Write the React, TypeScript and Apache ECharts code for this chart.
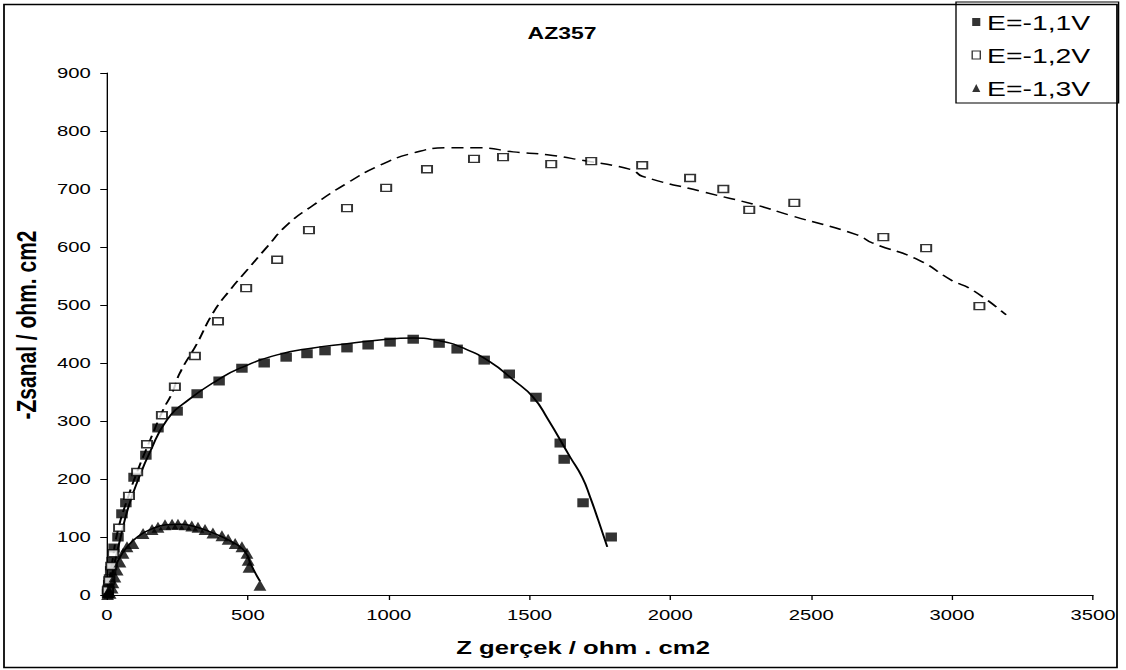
import React, { useEffect, useRef } from "react";
import * as echarts from "echarts";

// Horizontal stretch of the original figure (its texts and markers are wider than tall)
const S = 1.35;
const W = 1126 / S;
const H = 670;

const TITLE = "AZ357";
const X_NAME = "Z gerçek / ohm . cm2";
const Y_NAME = "-Zsanal / ohm. cm2";
const SERIES_NAMES = ["E=-1,1V", "E=-1,2V", "E=-1,3V"];

// E=-1,1V measured points (Zreal, -Zimag)
const s1Points: number[][] = [
  [2, 3], [4, 10], [6, 18], [9, 28], [13, 42], [18, 58], [25, 81], [39, 100], [53, 140],
  [67, 159], [96, 203], [138, 241], [181, 288], [249, 317], [320, 347], [398, 369],
  [479, 391], [558, 400], [636, 410], [710, 416], [774, 421], [852, 426], [927, 431],
  [1005, 436], [1087, 441], [1179, 434], [1243, 424], [1339, 405], [1428, 381],
  [1523, 341], [1609, 262], [1623, 234], [1690, 159], [1790, 100],
];
// E=-1,1V fitted curve
const s1Fit: number[][] = [
  [0, 0], [4, 3], [21, 43], [46, 95], [75, 150], [110, 198], [153, 247], [213, 302],
  [288, 336], [394, 371], [472, 391], [604, 414], [732, 426], [852, 433], [994, 441],
  [1087, 443], [1183, 438], [1264, 426], [1360, 402], [1442, 371], [1513, 341],
  [1563, 305], [1644, 238], [1687, 203], [1715, 169], [1744, 129], [1776, 83],
];

// E=-1,2V measured points
const s2Points: number[][] = [
  [3, 8], [8, 25], [15, 50], [22, 72], [43, 116], [78, 171], [107, 212], [142, 260],
  [195, 310], [241, 359], [312, 412], [394, 472], [494, 529], [604, 578], [717, 629],
  [852, 667], [991, 702], [1136, 734], [1303, 752], [1406, 755], [1577, 743],
  [1719, 748], [1900, 741], [2070, 719], [2188, 700], [2280, 664], [2440, 676],
  [2756, 617], [2908, 598], [3097, 498],
];
// E=-1,2V fitted curve (dashed)
const s2Fit: number[][] = [
  [0, 0], [18, 55], [39, 112], [75, 169], [110, 216], [153, 267], [199, 319], [231, 348],
  [259, 383], [320, 434], [376, 486], [437, 526], [497, 560], [568, 600], [639, 638],
  [732, 672], [852, 710], [969, 741], [1087, 762], [1207, 771], [1325, 771], [1442, 764],
  [1563, 759], [1680, 750], [1864, 733], [1900, 722], [2117, 695], [2308, 672],
  [2422, 655], [2663, 621], [2717, 607], [2880, 578], [2997, 543], [3072, 526], [3192, 483],
];

// E=-1,3V measured points
const s3Points: number[][] = [
  [2, 1], [4, 4], [6, 7], [11, 3], [18, 12], [21, 21], [28, 31], [36, 43], [46, 57],
  [57, 72], [71, 83], [92, 89], [128, 106], [160, 113], [181, 117], [206, 121],
  [231, 122], [252, 122], [277, 121], [301, 119], [323, 117], [348, 113], [376, 107],
  [408, 102], [430, 96], [455, 89], [479, 83], [497, 72], [501, 60], [504, 48], [543, 17],
];
// E=-1,3V fitted curve
const s3Fit: number[][] = [
  [0, 0], [8, 18], [20, 38], [40, 60], [70, 82], [110, 101], [160, 114], [210, 121],
  [260, 122], [310, 118], [360, 110], [410, 100], [450, 90], [480, 80], [498, 68],
  [508, 56], [520, 44], [532, 33], [543, 24],
];

const X_MIN = 0, X_MAX = 3500, X_STEP = 500;
const Y_MIN = 0, Y_MAX = 900, Y_STEP = 100;

const FONT = "Liberation Sans, Arial, sans-serif";

export default function App() {
  const ref = useRef<HTMLDivElement>(null);

  useEffect(() => {
    if (!ref.current) return;
    const chart = echarts.init(ref.current, undefined, { renderer: "svg" });
    const gl = 107 / S;
    const gr = W - 1093 / S;
    chart.setOption({
      animation: false,
      backgroundColor: "#fff",
      grid: { left: gl, right: gr, top: 73, bottom: 75 },
      graphic: [
        {
          type: "rect",
          shape: { x: 4 / S, y: 4.5, width: (1117 - 4) / S, height: 663 },
          style: { fill: "none", stroke: "#000", lineWidth: 1.3 },
          silent: true,
        },
        {
          type: "text",
          x: 562 / S,
          y: 33,
          style: {
            text: TITLE,
            font: `bold 17px ${FONT}`,
            align: "center",
            verticalAlign: "middle",
            fill: "#000",
          },
        },
      ],
      legend: {
        orient: "vertical",
        left: 956 / S,
        top: 2,
        borderColor: "#000",
        borderWidth: 1,
        padding: [9, 21, 4, 11.5],
        itemGap: 11,
        itemWidth: 6,
        itemHeight: 8,
        textStyle: { fontFamily: FONT, fontSize: 21, lineHeight: 22, color: "#000" },
        data: [
          { name: SERIES_NAMES[0], icon: "rect", itemStyle: { color: "#000" } },
          {
            name: SERIES_NAMES[1],
            icon: "rect",
            itemStyle: { color: "#fff", borderColor: "#000", borderWidth: 1 },
          },
          { name: SERIES_NAMES[2], icon: "triangle", itemStyle: { color: "#000" } },
        ],
      },
      xAxis: {
        type: "value",
        min: X_MIN,
        max: X_MAX,
        interval: X_STEP,
        name: X_NAME,
        nameLocation: "middle",
        nameGap: 43,
        nameTextStyle: {
          fontFamily: FONT,
          fontWeight: "bold",
          fontSize: 19,
          color: "#000",
          padding: [0, 25, 0, 0],
        },
        axisLine: { show: true, lineStyle: { color: "#000", width: 1 } },
        axisTick: { show: true, inside: false, length: 5, lineStyle: { color: "#000" } },
        axisLabel: {
          fontFamily: FONT,
          fontSize: 15,
          color: "#000",
          margin: 12,
          formatter: (v: number) => String(v),
        },
        splitLine: { show: false },
      },
      yAxis: {
        type: "value",
        min: Y_MIN,
        max: Y_MAX,
        interval: Y_STEP,
        name: Y_NAME,
        nameLocation: "middle",
        nameGap: 50,
        nameTextStyle: {
          fontFamily: FONT,
          fontWeight: "bold",
          fontSize: 21,
          color: "#000",
          padding: [0, 0, 0, 18],
        },
        axisLine: { show: true, lineStyle: { color: "#000", width: 1 } },
        axisTick: { show: true, inside: false, length: 5, lineStyle: { color: "#000" } },
        axisLabel: {
          fontFamily: FONT,
          fontSize: 15,
          color: "#000",
          margin: 12,
          formatter: (v: number) => String(v),
        },
        splitLine: { show: false },
      },
      series: [
        {
          name: "fit1",
          type: "line",
          data: s1Fit,
          smooth: true,
          showSymbol: false,
          silent: true,
          lineStyle: { color: "#000", width: 1.5 },
          z: 1,
        },
        {
          name: "fit2",
          type: "line",
          data: s2Fit,
          smooth: true,
          showSymbol: false,
          silent: true,
          lineStyle: { color: "#000", width: 1.5, type: [9, 5] },
          z: 1,
        },
        {
          name: "fit3",
          type: "line",
          data: s3Fit,
          smooth: true,
          showSymbol: false,
          silent: true,
          lineStyle: { color: "#000", width: 1.5 },
          z: 1,
        },
        {
          name: SERIES_NAMES[0],
          type: "scatter",
          data: s1Points,
          symbol: "rect",
          symbolSize: [8.5, 9],
          itemStyle: { color: "#000" },
          z: 3,
        },
        {
          name: SERIES_NAMES[1],
          type: "scatter",
          data: s2Points,
          symbol: "rect",
          symbolSize: [7.5, 7],
          itemStyle: { color: "#fff", borderColor: "#000", borderWidth: 1.4 },
          z: 3,
        },
        {
          name: SERIES_NAMES[2],
          type: "scatter",
          data: s3Points,
          symbol: "triangle",
          symbolSize: [9.5, 11],
          itemStyle: { color: "#000" },
          z: 3,
        },
      ],
    });
    return () => chart.dispose();
  }, []);

  return (
    <div
      ref={ref}
      style={{
        position: "fixed",
        left: 0,
        top: 0,
        width: W,
        height: H,
        transform: `scaleX(${S})`,
        transformOrigin: "0 0",
        background: "#fff",
      }}
    />
  );
}
